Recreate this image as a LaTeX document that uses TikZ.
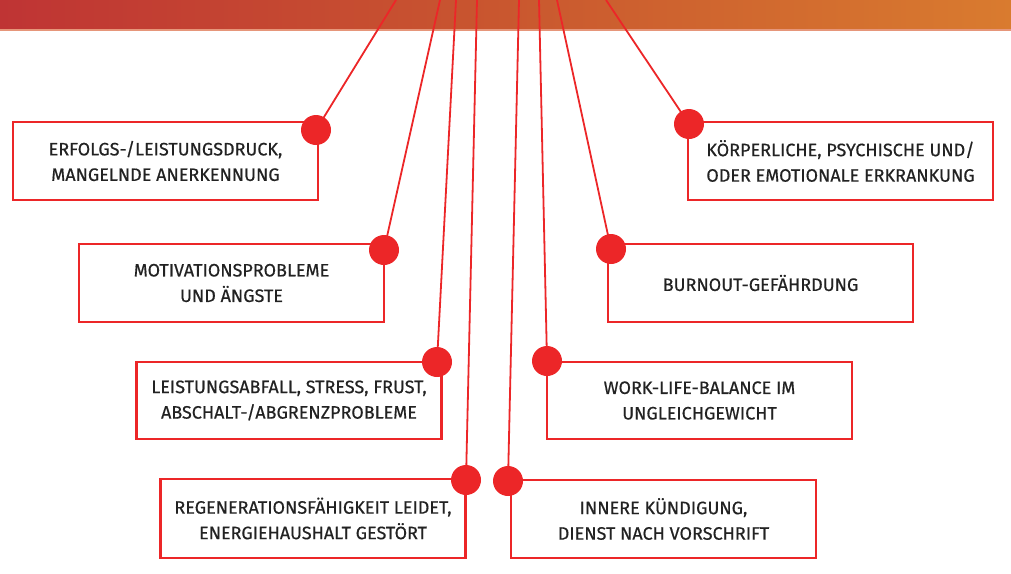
\documentclass[tikz,border=0pt]{standalone}
\usepackage{fontspec}
\setmainfont{Fira Sans}
\newfontfamily\boxfont{Fira Sans}[RawFeature={embolden=0.5}]
\definecolor{bred}{HTML}{EC2628}
\definecolor{txt}{HTML}{222222}
\definecolor{barL}{HTML}{BF3434}
\definecolor{barM}{HTML}{C9572F}
\definecolor{barR}{HTML}{D97B2F}
\definecolor{barline}{HTML}{E6967A}
\begin{document}
\begin{tikzpicture}[x=1pt,y=-1pt,
  box/.style={draw=bred, line width=2.6pt, minimum width=305pt, inner sep=0pt,
    text=txt, align=center, font=\boxfont\fontsize{18}{25.5}\selectfont},
  dot/.style={circle, fill=bred, minimum size=30pt, inner sep=0pt},
  conn/.style={draw=bred, line width=1.8pt}]
\useasboundingbox (0,0) rectangle (1011,573);
\shade[left color=barL, right color=barR, middle color=barM, shading angle=90] (0,0) rectangle (1011,29);
\fill[barline] (0,29) rectangle (1011,30.5);
% boxes
\node[box, minimum height=78pt] (b1) at (165.5,161) {ERFOLGS-/LEISTUNGSDRUCK,\\MANGELNDE ANERKENNUNG};
\node[box, minimum height=78pt] (b2) at (840.5,161) {KÖRPERLICHE, PSYCHISCHE UND/\\ODER EMOTIONALE ERKRANKUNG};
\node[box, minimum height=78pt] (b3) at (231.5,283) {MOTIVATIONSPROBLEME\\UND ÄNGSTE};
\node[box, minimum height=78pt] (b4) at (760.5,283) {BURNOUT-GEFÄHRDUNG};
\node[box, minimum height=77pt] (b5) at (289,400.5) {LEISTUNGSABFALL, STRESS, FRUST,\\ABSCHALT-/ABGRENZPROBLEME};
\node[box, minimum height=77pt] (b6) at (699.5,400.5) {WORK-LIFE-BALANCE IM\\UNGLEICHGEWICHT};
\node[box, minimum height=79pt] (b7) at (313,518.5) {REGENERATIONSFÄHIGKEIT LEIDET,\\ENERGIEHAUSHALT GESTÖRT};
\node[box, minimum height=78pt] (b8) at (663.5,519) {INNERE KÜNDIGUNG,\\DIENST NACH VORSCHRIFT};
% top ends
\coordinate (t1) at (396,0);
\coordinate (t2) at (606,0);
\coordinate (t3) at (440,0);
\coordinate (t4) at (557,0);
\coordinate (t5) at (456,0);
\coordinate (t6) at (539,0);
\coordinate (t7) at (477,0);
\coordinate (t8) at (519,0);
% dots
\node[dot] (d1) at (316,130) {};
\node[dot] (d2) at (689,124) {};
\node[dot] (d3) at (384,250) {};
\node[dot] (d4) at (611,249) {};
\node[dot] (d5) at (437,362) {};
\node[dot] (d6) at (547,361) {};
\node[dot] (d7) at (466,480) {};
\node[dot] (d8) at (508,481) {};
% connectors
\foreach \i in {1,...,8} {\draw[conn] (t\i) -- (d\i.center);}
\end{tikzpicture}
\end{document}
